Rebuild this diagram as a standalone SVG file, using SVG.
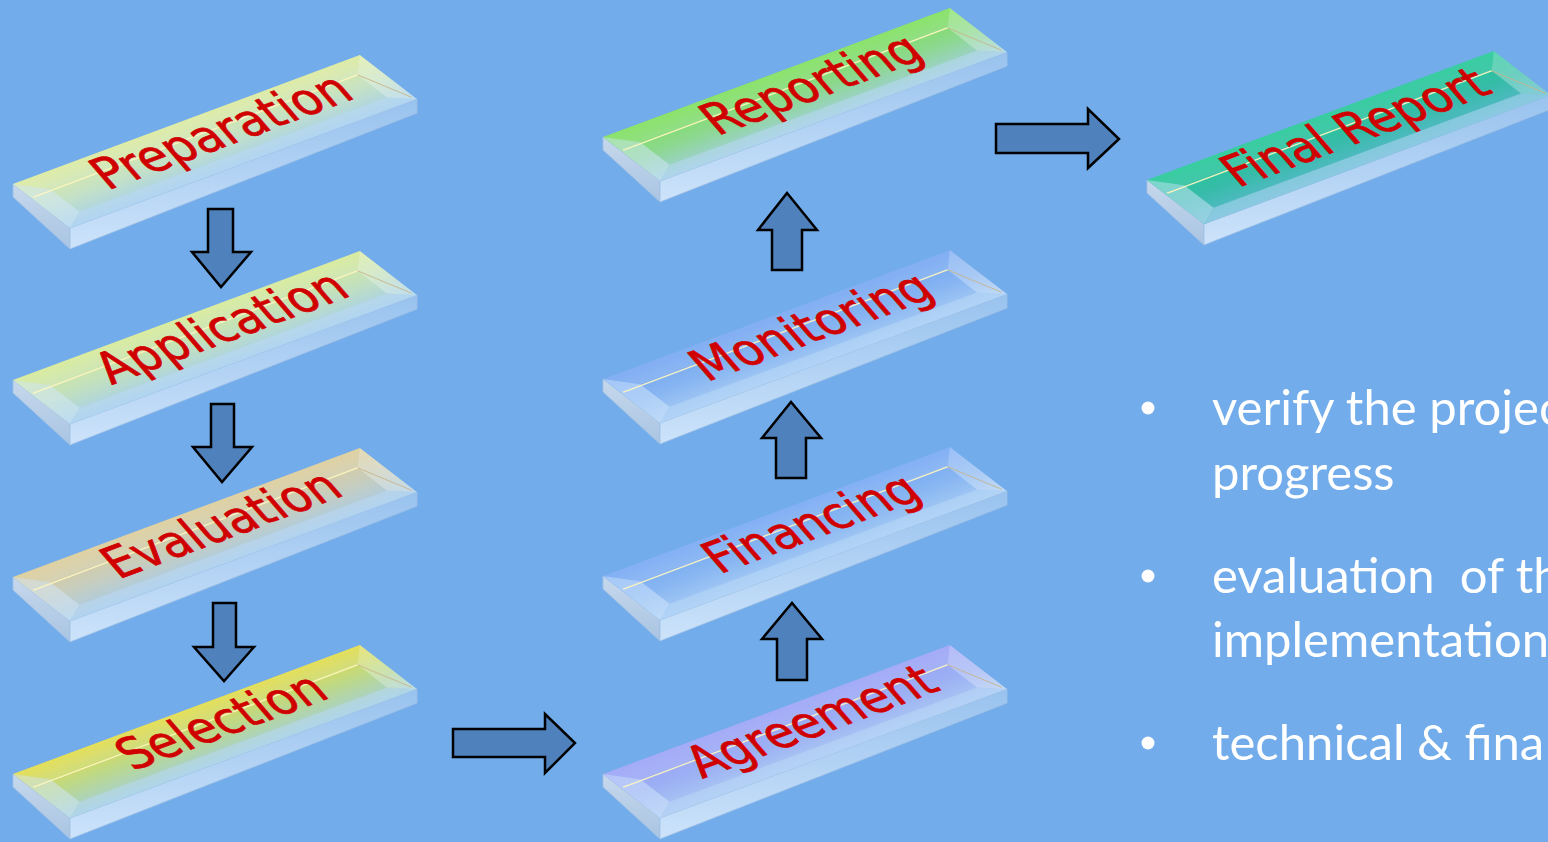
<svg xmlns="http://www.w3.org/2000/svg" width="1548" height="842" viewBox="0 0 1548 842">
<defs>
<style>
.end{fill:url(#gEnd);stroke:#9fc0e4;stroke-width:0.8}
.front{fill:url(#gFront);stroke:#9fc0e4;stroke-width:0.8}
.bb{fill:#ffffff;opacity:0.1}
.bl{fill:#d4e8fc;opacity:0.5}
.bf{fill:#bcdaf8;opacity:0.5}
.br{fill:#ffffff;opacity:0.28}
.hl{fill:none;stroke:#fff6c0;stroke-width:1.6;opacity:0.9}
.rl{fill:none;stroke:#c8b48a;stroke-width:0.8}
.lbl{font-family:"DejaVu Sans",Verdana,sans-serif;font-size:46px;fill:#D00000;stroke:#D00000;stroke-width:0.7;text-anchor:middle}
.arrow{fill:#4F81BD;stroke:#000;stroke-width:2.5;stroke-linejoin:miter}
.bul{font-family:Lato,"Open Sans",sans-serif;font-size:49px;fill:#ffffff}
</style>
<linearGradient id="gEnd" x1="0" y1="0" x2="0" y2="1"><stop offset="0" stop-color="#c6d8ec"/><stop offset="1" stop-color="#a9c4e2"/></linearGradient>
<linearGradient id="gFront" x1="0" y1="0" x2="0" y2="1"><stop offset="0" stop-color="#98c2ee"/><stop offset="1" stop-color="#cde3fa"/></linearGradient>
<linearGradient id="gPrep" x1="0" y1="0" x2="0" y2="1"><stop offset="0" stop-color="#dcea9e"/><stop offset="0.5" stop-color="#c6e2c4"/><stop offset="1" stop-color="#a6d0ec"/></linearGradient>
<linearGradient id="gAppl" x1="0" y1="0" x2="0" y2="1"><stop offset="0" stop-color="#d6ea96"/><stop offset="0.5" stop-color="#c2e0be"/><stop offset="1" stop-color="#a6d0ec"/></linearGradient>
<linearGradient id="gEval" x1="0" y1="0" x2="0" y2="1"><stop offset="0" stop-color="#dccc98"/><stop offset="0.5" stop-color="#c8cdbc"/><stop offset="1" stop-color="#a8cce8"/></linearGradient>
<linearGradient id="gSel" x1="0" y1="0" x2="0" y2="1"><stop offset="0" stop-color="#e2dc48"/><stop offset="0.5" stop-color="#bcd88a"/><stop offset="1" stop-color="#a2d0dc"/></linearGradient>
<linearGradient id="gRep" x1="0" y1="0" x2="0" y2="1"><stop offset="0" stop-color="#7ee05a"/><stop offset="0.5" stop-color="#8cd88e"/><stop offset="1" stop-color="#a2cfe0"/></linearGradient>
<linearGradient id="gMon" x1="0" y1="0" x2="0" y2="1"><stop offset="0" stop-color="#74a6f2"/><stop offset="0.5" stop-color="#86b4f2"/><stop offset="1" stop-color="#a8cdf4"/></linearGradient>
<linearGradient id="gFin" x1="0" y1="0" x2="0" y2="1"><stop offset="0" stop-color="#76a8f4"/><stop offset="0.5" stop-color="#88b6f2"/><stop offset="1" stop-color="#a8cdf4"/></linearGradient>
<linearGradient id="gAgr" x1="0" y1="0" x2="0" y2="1"><stop offset="0" stop-color="#9aa2f6"/><stop offset="0.5" stop-color="#9cb0f4"/><stop offset="1" stop-color="#accaf2"/></linearGradient>
<linearGradient id="gFin2" x1="0" y1="0" x2="0" y2="1"><stop offset="0" stop-color="#22c896"/><stop offset="0.5" stop-color="#36bca8"/><stop offset="1" stop-color="#5ab8cc"/></linearGradient>
</defs>
<rect width="1548" height="842" fill="#72ACEA"/>

<g id="n-preparation" transform="translate(0,0)">
<polygon class="end" points="13,184 70,228 70,249 13,197"/>
<polygon class="front" points="70,228 417,99 417,113 70,249"/>
<g transform="matrix(0.9373,-0.3485,0.7917,0.611,13,184)">
<rect width="370" height="72" fill="url(#gPrep)"/>
<polygon class="bb" points="0,0 370,0 350,21 22,21"/><polygon class="bl" points="0,0 22,21 22,58 0,72"/><polygon class="bf" points="0,72 22,58 350,58 370,72"/><polygon class="br" points="370,0 370,72 350,58 350,21"/>
<path class="hl" d="M2,23 L350,21"/><path class="rl" d="M350,21 L368,68"/>
<text class="lbl" transform="translate(195,46) skewX(-12) scale(1,1.2)">Preparation</text>
</g>
</g>

<g id="n-application" transform="translate(0,196)">
<polygon class="end" points="13,184 70,228 70,249 13,197"/>
<polygon class="front" points="70,228 417,99 417,113 70,249"/>
<g transform="matrix(0.9373,-0.3485,0.7917,0.611,13,184)">
<rect width="370" height="72" fill="url(#gAppl)"/>
<polygon class="bb" points="0,0 370,0 350,21 22,21"/><polygon class="bl" points="0,0 22,21 22,58 0,72"/><polygon class="bf" points="0,72 22,58 350,58 370,72"/><polygon class="br" points="370,0 370,72 350,58 350,21"/>
<path class="hl" d="M2,23 L350,21"/><path class="rl" d="M350,21 L368,68"/>
<text class="lbl" transform="translate(195,46) skewX(-12) scale(1,1.2)">Application</text>
</g>
</g>

<g id="n-evaluation" transform="translate(0,393)">
<polygon class="end" points="13,184 70,228 70,249 13,197"/>
<polygon class="front" points="70,228 417,99 417,113 70,249"/>
<g transform="matrix(0.9373,-0.3485,0.7917,0.611,13,184)">
<rect width="370" height="72" fill="url(#gEval)"/>
<polygon class="bb" points="0,0 370,0 350,21 22,21"/><polygon class="bl" points="0,0 22,21 22,58 0,72"/><polygon class="bf" points="0,72 22,58 350,58 370,72"/><polygon class="br" points="370,0 370,72 350,58 350,21"/>
<path class="hl" d="M2,23 L350,21"/><path class="rl" d="M350,21 L368,68"/>
<text class="lbl" transform="translate(195,46) skewX(-12) scale(1,1.2)">Evaluation</text>
</g>
</g>

<g id="n-selection" transform="translate(0,590)">
<polygon class="end" points="13,184 70,228 70,249 13,197"/>
<polygon class="front" points="70,228 417,99 417,113 70,249"/>
<g transform="matrix(0.9373,-0.3485,0.7917,0.611,13,184)">
<rect width="370" height="72" fill="url(#gSel)"/>
<polygon class="bb" points="0,0 370,0 350,21 22,21"/><polygon class="bl" points="0,0 22,21 22,58 0,72"/><polygon class="bf" points="0,72 22,58 350,58 370,72"/><polygon class="br" points="370,0 370,72 350,58 350,21"/>
<path class="hl" d="M2,23 L350,21"/><path class="rl" d="M350,21 L368,68"/>
<text class="lbl" transform="translate(195,46) skewX(-12) scale(1,1.2)">Selection</text>
</g>
</g>

<g id="n-reporting" transform="translate(590,-47)">
<polygon class="end" points="13,184 70,228 70,249 13,197"/>
<polygon class="front" points="70,228 417,99 417,113 70,249"/>
<g transform="matrix(0.9373,-0.3485,0.7917,0.611,13,184)">
<rect width="370" height="72" fill="url(#gRep)"/>
<polygon class="bb" points="0,0 370,0 350,21 22,21"/><polygon class="bl" points="0,0 22,21 22,58 0,72"/><polygon class="bf" points="0,72 22,58 350,58 370,72"/><polygon class="br" points="370,0 370,72 350,58 350,21"/>
<path class="hl" d="M2,23 L350,21"/><path class="rl" d="M350,21 L368,68"/>
<text class="lbl" transform="translate(195,46) skewX(-12) scale(1,1.2)">Reporting</text>
</g>
</g>

<g id="n-monitoring" transform="translate(590,195)">
<polygon class="end" points="13,184 70,228 70,249 13,197"/>
<polygon class="front" points="70,228 417,99 417,113 70,249"/>
<g transform="matrix(0.9373,-0.3485,0.7917,0.611,13,184)">
<rect width="370" height="72" fill="url(#gMon)"/>
<polygon class="bb" points="0,0 370,0 350,21 22,21"/><polygon class="bl" points="0,0 22,21 22,58 0,72"/><polygon class="bf" points="0,72 22,58 350,58 370,72"/><polygon class="br" points="370,0 370,72 350,58 350,21"/>
<path class="hl" d="M2,23 L350,21"/><path class="rl" d="M350,21 L368,68"/>
<text class="lbl" transform="translate(195,46) skewX(-12) scale(1,1.2)">Monitoring</text>
</g>
</g>

<g id="n-financing" transform="translate(590,392)">
<polygon class="end" points="13,184 70,228 70,249 13,197"/>
<polygon class="front" points="70,228 417,99 417,113 70,249"/>
<g transform="matrix(0.9373,-0.3485,0.7917,0.611,13,184)">
<rect width="370" height="72" fill="url(#gFin)"/>
<polygon class="bb" points="0,0 370,0 350,21 22,21"/><polygon class="bl" points="0,0 22,21 22,58 0,72"/><polygon class="bf" points="0,72 22,58 350,58 370,72"/><polygon class="br" points="370,0 370,72 350,58 350,21"/>
<path class="hl" d="M2,23 L350,21"/><path class="rl" d="M350,21 L368,68"/>
<text class="lbl" transform="translate(195,46) skewX(-12) scale(1,1.2)">Financing</text>
</g>
</g>

<g id="n-agreement" transform="translate(590,590)">
<polygon class="end" points="13,184 70,228 70,249 13,197"/>
<polygon class="front" points="70,228 417,99 417,113 70,249"/>
<g transform="matrix(0.9373,-0.3485,0.7917,0.611,13,184)">
<rect width="370" height="72" fill="url(#gAgr)"/>
<polygon class="bb" points="0,0 370,0 350,21 22,21"/><polygon class="bl" points="0,0 22,21 22,58 0,72"/><polygon class="bf" points="0,72 22,58 350,58 370,72"/><polygon class="br" points="370,0 370,72 350,58 350,21"/>
<path class="hl" d="M2,23 L350,21"/><path class="rl" d="M350,21 L368,68"/>
<text class="lbl" transform="translate(195,46) skewX(-12) scale(1,1.2)">Agreement</text>
</g>
</g>

<g id="n-final-report" transform="translate(1134,-4)">
<polygon class="end" points="13,184 70,228 70,249 13,197"/>
<polygon class="front" points="70,228 417,99 417,113 70,249"/>
<g transform="matrix(0.9373,-0.3485,0.7917,0.611,13,184)">
<rect width="370" height="72" fill="url(#gFin2)"/>
<polygon class="bb" points="0,0 370,0 350,21 22,21"/><polygon class="bl" points="0,0 22,21 22,58 0,72"/><polygon class="bf" points="0,72 22,58 350,58 370,72"/><polygon class="br" points="370,0 370,72 350,58 350,21"/>
<path class="hl" d="M2,23 L350,21"/><path class="rl" d="M350,21 L368,68"/>
<text class="lbl" transform="translate(195,46) skewX(-12) scale(1,1.2)">Final Report</text>
</g>
</g>

<g id="connectors">
<polygon class="arrow" points="208,209 233,209 233,252 251,252 221,287 192,252 208,252"/>
<polygon class="arrow" points="211,404 234,404 234,447 252,447 222,482 193,447 211,447"/>
<polygon class="arrow" points="213,603 236,603 236,647 254,647 224,681 194,647 213,647"/>
<polygon class="arrow" points="453,729 545,729 545,714 575,743 545,773 545,757 453,757"/>
<polygon class="arrow" points="777,680 807,680 807,639 822,639 792,603 762,639 777,639"/>
<polygon class="arrow" points="776,478 806,478 806,438 821,438 791,402 762,438 776,438"/>
<polygon class="arrow" points="772,270 802,270 802,230 817,230 787,193 758,230 772,230"/>
<polygon class="arrow" points="996,124 1088,124 1088,109 1119,139 1088,168 1088,153 996,153"/>
</g>

<g id="bullets">
<circle cx="1148" cy="408" r="6.5" fill="#fff"/>
<circle cx="1148" cy="576" r="6.5" fill="#fff"/>
<circle cx="1148" cy="743" r="6.5" fill="#fff"/>
<text class="bul" x="1212" y="425">verify the projec</text>
<text class="bul" x="1212" y="490">progress</text>
<text class="bul" x="1212" y="593" xml:space="preserve">evaluation  of th</text>
<text class="bul" x="1212" y="657">implementation</text>
<text class="bul" x="1212" y="760">technical &amp; fina</text>
</g>
</svg>
